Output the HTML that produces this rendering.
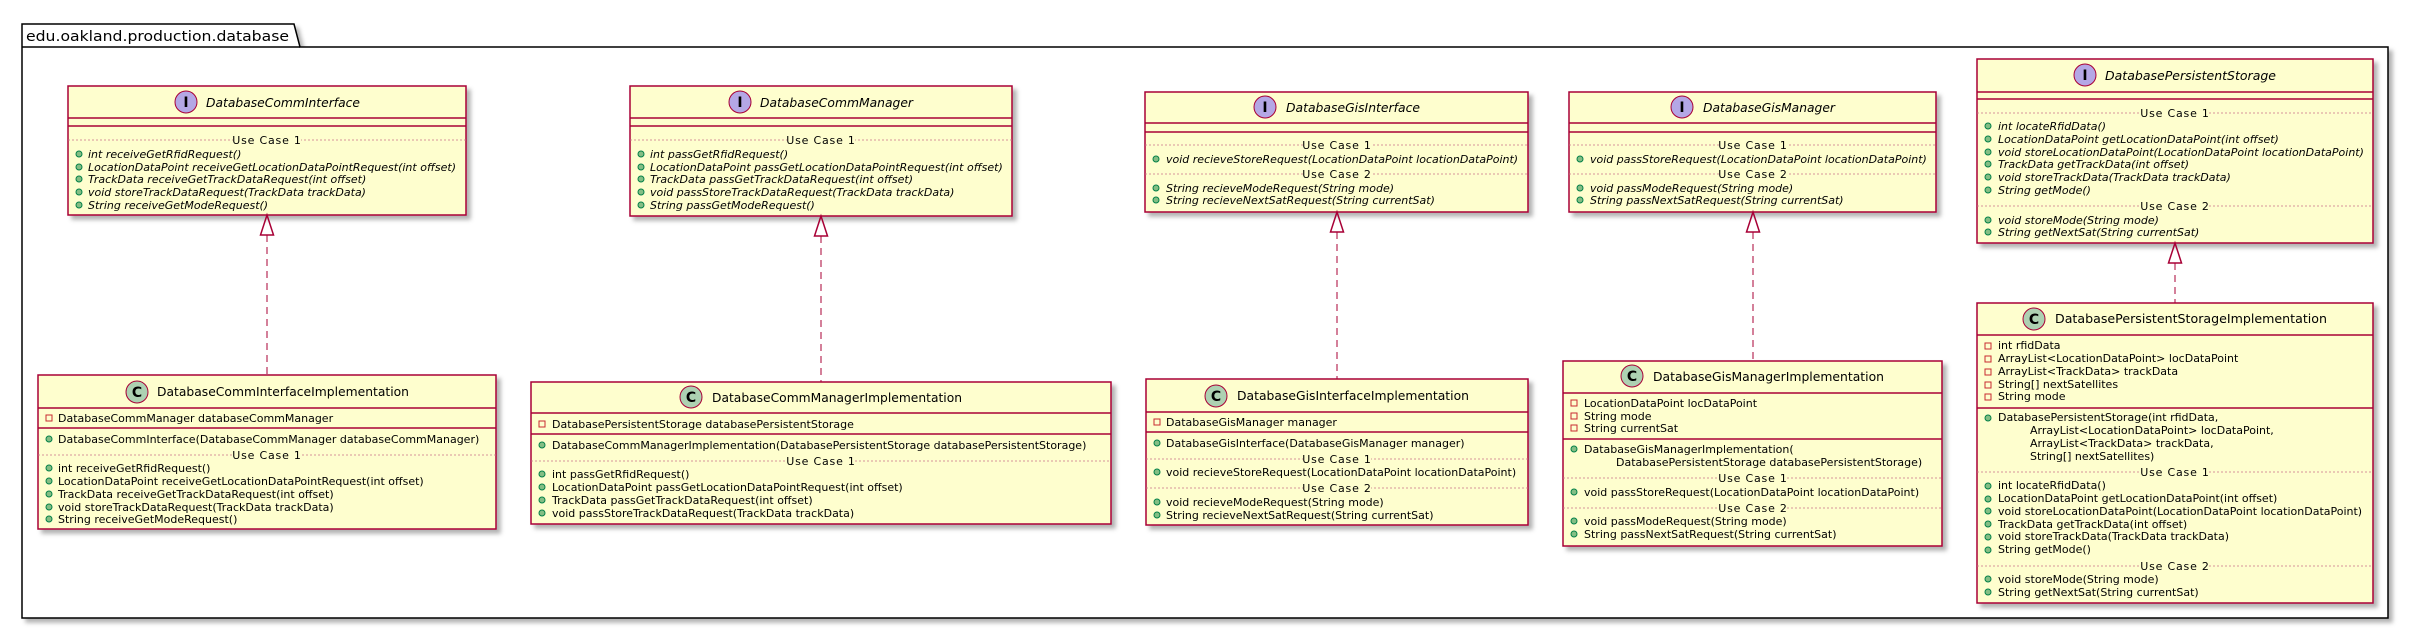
<!DOCTYPE html>
<html><head><meta charset="utf-8"><style>
html,body{margin:0;padding:0;background:#fff;}
svg{display:block;}
text{font-family:"DejaVu Sans","Liberation Sans",sans-serif;fill:#000;}
.t{font-size:12px;}
.ti{font-size:12px;font-style:italic;}
.m{font-size:11px;}
.mi{font-size:11px;font-style:italic;}
.uc{font-size:11px;letter-spacing:0.8px;}
.bx{fill:#FEFECE;stroke:#A80036;stroke-width:1.5;}
.ln{stroke:#A80036;stroke-width:1.5;}
.dl{stroke:#C9718A;stroke-width:0.8;stroke-dasharray:2,2;}
.pub{fill:#84BE84;stroke:#038048;stroke-width:1;}
.prv{fill:none;stroke:#C82930;stroke-width:1;}
.ic{stroke:#A80036;stroke-width:1;}
</style></head><body>
<svg width="2410" height="629" viewBox="0 0 2410 629" xmlns="http://www.w3.org/2000/svg">
<defs>
<filter id="sh" x="-5%" y="-5%" width="115%" height="120%"><feDropShadow dx="4" dy="4" stdDeviation="2" flood-color="#000" flood-opacity="0.3"/></filter>
</defs>

<!-- package -->
<path d="M22 24 L294 24 L300 47 L2388 47 L2388 618 L22 618 Z" fill="#fff" stroke="#000" stroke-width="1.5" filter="url(#sh)"/>
<line x1="22" y1="47" x2="300" y2="47" stroke="#000" stroke-width="1.5"/>
<text x="26" y="41" style="font-size:14px;" textLength="263" lengthAdjust="spacingAndGlyphs">edu.oakland.production.database</text>

<!-- ===== A interface ===== -->
<rect class="bx" x="68" y="86" width="398" height="129" filter="url(#sh)"/>
<circle cx="186" cy="102" r="11" fill="#B4A7E5" class="ic"/><text x="186" y="107" text-anchor="middle" style="font-size:14px;font-weight:bold;">I</text>
<text class="ti" x="206" y="107" textLength="154" lengthAdjust="spacingAndGlyphs">DatabaseCommInterface</text>
<line class="ln" x1="68" y1="118" x2="466" y2="118"/><line class="ln" x1="68" y1="126" x2="466" y2="126"/>
<line class="dl" x1="68" y1="140" x2="466" y2="140"/><rect x="233" y="133" width="68" height="14" fill="#FEFECE"/><text class="uc" x="267" y="144" text-anchor="middle">Use Case 1</text>
<circle class="pub" cx="79" cy="154" r="3"/><text class="mi" x="88" y="158">int receiveGetRfidRequest()</text>
<circle class="pub" cx="79" cy="167" r="3"/><text class="mi" x="88" y="171">LocationDataPoint receiveGetLocationDataPointRequest(int offset)</text>
<circle class="pub" cx="79" cy="179" r="3"/><text class="mi" x="88" y="183">TrackData receiveGetTrackDataRequest(int offset)</text>
<circle class="pub" cx="79" cy="192" r="3"/><text class="mi" x="88" y="196">void storeTrackDataRequest(TrackData trackData)</text>
<circle class="pub" cx="79" cy="205" r="3"/><text class="mi" x="88" y="209">String receiveGetModeRequest()</text>
<path d="M267 215 L260.5 235 L273.5 235 Z" fill="none" class="ln" stroke-width="1"/>
<line x1="267" y1="235" x2="267" y2="375" stroke="#A80036" stroke-width="1" stroke-dasharray="7,5"/>

<!-- A impl -->
<rect class="bx" x="38" y="375" width="458" height="154" filter="url(#sh)"/>
<circle cx="137" cy="392" r="11" fill="#ADD1B2" class="ic"/><text x="137" y="397" text-anchor="middle" style="font-size:14px;font-weight:bold;">C</text>
<text class="t" x="157" y="396" textLength="252" lengthAdjust="spacingAndGlyphs">DatabaseCommInterfaceImplementation</text>
<line class="ln" x1="38" y1="408" x2="496" y2="408"/>
<rect class="prv" x="46" y="415" width="6" height="6"/><text class="m" x="58" y="422">DatabaseCommManager databaseCommManager</text>
<line class="ln" x1="38" y1="428" x2="496" y2="428"/>
<circle class="pub" cx="49" cy="439" r="3"/><text class="m" x="58" y="443">DatabaseCommInterface(DatabaseCommManager databaseCommManager)</text>
<line class="dl" x1="38" y1="455" x2="496" y2="455"/><rect x="233" y="448" width="68" height="14" fill="#FEFECE"/><text class="uc" x="267" y="459" text-anchor="middle">Use Case 1</text>
<circle class="pub" cx="49" cy="468" r="3"/><text class="m" x="58" y="472">int receiveGetRfidRequest()</text>
<circle class="pub" cx="49" cy="481" r="3"/><text class="m" x="58" y="485">LocationDataPoint receiveGetLocationDataPointRequest(int offset)</text>
<circle class="pub" cx="49" cy="494" r="3"/><text class="m" x="58" y="498">TrackData receiveGetTrackDataRequest(int offset)</text>
<circle class="pub" cx="49" cy="507" r="3"/><text class="m" x="58" y="511">void storeTrackDataRequest(TrackData trackData)</text>
<circle class="pub" cx="49" cy="519" r="3"/><text class="m" x="58" y="523">String receiveGetModeRequest()</text>

<!-- ===== B interface ===== -->
<rect class="bx" x="630" y="86" width="382" height="130" filter="url(#sh)"/>
<circle cx="740" cy="102" r="11" fill="#B4A7E5" class="ic"/><text x="740" y="107" text-anchor="middle" style="font-size:14px;font-weight:bold;">I</text>
<text class="ti" x="760" y="107" textLength="153" lengthAdjust="spacingAndGlyphs">DatabaseCommManager</text>
<line class="ln" x1="630" y1="118" x2="1012" y2="118"/><line class="ln" x1="630" y1="126" x2="1012" y2="126"/>
<line class="dl" x1="630" y1="140" x2="1012" y2="140"/><rect x="787" y="133" width="68" height="14" fill="#FEFECE"/><text class="uc" x="821" y="144" text-anchor="middle">Use Case 1</text>
<circle class="pub" cx="641" cy="154" r="3"/><text class="mi" x="650" y="158">int passGetRfidRequest()</text>
<circle class="pub" cx="641" cy="167" r="3"/><text class="mi" x="650" y="171">LocationDataPoint passGetLocationDataPointRequest(int offset)</text>
<circle class="pub" cx="641" cy="179" r="3"/><text class="mi" x="650" y="183">TrackData passGetTrackDataRequest(int offset)</text>
<circle class="pub" cx="641" cy="192" r="3"/><text class="mi" x="650" y="196">void passStoreTrackDataRequest(TrackData trackData)</text>
<circle class="pub" cx="641" cy="205" r="3"/><text class="mi" x="650" y="209">String passGetModeRequest()</text>
<path d="M821 216 L814.5 236 L827.5 236 Z" fill="none" class="ln" stroke-width="1"/>
<line x1="821" y1="236" x2="821" y2="382" stroke="#A80036" stroke-width="1" stroke-dasharray="7,5"/>

<!-- B impl -->
<rect class="bx" x="531" y="382" width="580" height="142" filter="url(#sh)"/>
<circle cx="691" cy="397" r="11" fill="#ADD1B2" class="ic"/><text x="691" y="402" text-anchor="middle" style="font-size:14px;font-weight:bold;">C</text>
<text class="t" x="712" y="402" textLength="250" lengthAdjust="spacingAndGlyphs">DatabaseCommManagerImplementation</text>
<line class="ln" x1="531" y1="413" x2="1111" y2="413"/>
<rect class="prv" x="539" y="421" width="6" height="6"/><text class="m" x="552" y="428">DatabasePersistentStorage databasePersistentStorage</text>
<line class="ln" x1="531" y1="434" x2="1111" y2="434"/>
<circle class="pub" cx="542" cy="445" r="3"/><text class="m" x="552" y="449">DatabaseCommManagerImplementation(DatabasePersistentStorage databasePersistentStorage)</text>
<line class="dl" x1="531" y1="461" x2="1111" y2="461"/><rect x="787" y="454" width="68" height="14" fill="#FEFECE"/><text class="uc" x="821" y="465" text-anchor="middle">Use Case 1</text>
<circle class="pub" cx="542" cy="474" r="3"/><text class="m" x="552" y="478">int passGetRfidRequest()</text>
<circle class="pub" cx="542" cy="487" r="3"/><text class="m" x="552" y="491">LocationDataPoint passGetLocationDataPointRequest(int offset)</text>
<circle class="pub" cx="542" cy="500" r="3"/><text class="m" x="552" y="504">TrackData passGetTrackDataRequest(int offset)</text>
<circle class="pub" cx="542" cy="513" r="3"/><text class="m" x="552" y="517">void passStoreTrackDataRequest(TrackData trackData)</text>

<!-- ===== C interface ===== -->
<rect class="bx" x="1145" y="92" width="383" height="120" filter="url(#sh)"/>
<circle cx="1265" cy="107" r="11" fill="#B4A7E5" class="ic"/><text x="1265" y="112" text-anchor="middle" style="font-size:14px;font-weight:bold;">I</text>
<text class="ti" x="1286" y="112" textLength="134" lengthAdjust="spacingAndGlyphs">DatabaseGisInterface</text>
<line class="ln" x1="1145" y1="123" x2="1528" y2="123"/><line class="ln" x1="1145" y1="132" x2="1528" y2="132"/>
<line class="dl" x1="1145" y1="145" x2="1528" y2="145"/><rect x="1303" y="138" width="68" height="14" fill="#FEFECE"/><text class="uc" x="1337" y="149" text-anchor="middle">Use Case 1</text>
<circle class="pub" cx="1156" cy="159" r="3"/><text class="mi" x="1166" y="163">void recieveStoreRequest(LocationDataPoint locationDataPoint)</text>
<line class="dl" x1="1145" y1="174" x2="1528" y2="174"/><rect x="1303" y="167" width="68" height="14" fill="#FEFECE"/><text class="uc" x="1337" y="178" text-anchor="middle">Use Case 2</text>
<circle class="pub" cx="1156" cy="188" r="3"/><text class="mi" x="1166" y="192">String recieveModeRequest(String mode)</text>
<circle class="pub" cx="1156" cy="200" r="3"/><text class="mi" x="1166" y="204">String recieveNextSatRequest(String currentSat)</text>
<path d="M1337 212 L1330.5 232 L1343.5 232 Z" fill="none" class="ln" stroke-width="1"/>
<line x1="1337" y1="232" x2="1337" y2="379" stroke="#A80036" stroke-width="1" stroke-dasharray="7,5"/>

<!-- C impl -->
<rect class="bx" x="1146" y="379" width="382" height="146" filter="url(#sh)"/>
<circle cx="1216" cy="396" r="11" fill="#ADD1B2" class="ic"/><text x="1216" y="401" text-anchor="middle" style="font-size:14px;font-weight:bold;">C</text>
<text class="t" x="1237" y="400" textLength="232" lengthAdjust="spacingAndGlyphs">DatabaseGisInterfaceImplementation</text>
<line class="ln" x1="1146" y1="412" x2="1528" y2="412"/>
<rect class="prv" x="1154" y="419" width="6" height="6"/><text class="m" x="1166" y="426">DatabaseGisManager manager</text>
<line class="ln" x1="1146" y1="432" x2="1528" y2="432"/>
<circle class="pub" cx="1157" cy="443" r="3"/><text class="m" x="1166" y="447">DatabaseGisInterface(DatabaseGisManager manager)</text>
<line class="dl" x1="1146" y1="459" x2="1528" y2="459"/><rect x="1303" y="452" width="68" height="14" fill="#FEFECE"/><text class="uc" x="1337" y="463" text-anchor="middle">Use Case 1</text>
<circle class="pub" cx="1157" cy="472" r="3"/><text class="m" x="1166" y="476">void recieveStoreRequest(LocationDataPoint locationDataPoint)</text>
<line class="dl" x1="1146" y1="488" x2="1528" y2="488"/><rect x="1303" y="481" width="68" height="14" fill="#FEFECE"/><text class="uc" x="1337" y="492" text-anchor="middle">Use Case 2</text>
<circle class="pub" cx="1157" cy="502" r="3"/><text class="m" x="1166" y="506">void recieveModeRequest(String mode)</text>
<circle class="pub" cx="1157" cy="515" r="3"/><text class="m" x="1166" y="519">String recieveNextSatRequest(String currentSat)</text>

<!-- ===== D interface ===== -->
<rect class="bx" x="1569" y="92" width="367" height="120" filter="url(#sh)"/>
<circle cx="1682" cy="107" r="11" fill="#B4A7E5" class="ic"/><text x="1682" y="112" text-anchor="middle" style="font-size:14px;font-weight:bold;">I</text>
<text class="ti" x="1703" y="112" textLength="132" lengthAdjust="spacingAndGlyphs">DatabaseGisManager</text>
<line class="ln" x1="1569" y1="123" x2="1936" y2="123"/><line class="ln" x1="1569" y1="132" x2="1936" y2="132"/>
<line class="dl" x1="1569" y1="145" x2="1936" y2="145"/><rect x="1719" y="138" width="68" height="14" fill="#FEFECE"/><text class="uc" x="1753" y="149" text-anchor="middle">Use Case 1</text>
<circle class="pub" cx="1580" cy="159" r="3"/><text class="mi" x="1590" y="163">void passStoreRequest(LocationDataPoint locationDataPoint)</text>
<line class="dl" x1="1569" y1="174" x2="1936" y2="174"/><rect x="1719" y="167" width="68" height="14" fill="#FEFECE"/><text class="uc" x="1753" y="178" text-anchor="middle">Use Case 2</text>
<circle class="pub" cx="1580" cy="188" r="3"/><text class="mi" x="1590" y="192">void passModeRequest(String mode)</text>
<circle class="pub" cx="1580" cy="200" r="3"/><text class="mi" x="1590" y="204">String passNextSatRequest(String currentSat)</text>
<path d="M1753 212 L1746.5 232 L1759.5 232 Z" fill="none" class="ln" stroke-width="1"/>
<line x1="1753" y1="232" x2="1753" y2="361" stroke="#A80036" stroke-width="1" stroke-dasharray="7,5"/>

<!-- D impl -->
<rect class="bx" x="1563" y="361" width="379" height="185" filter="url(#sh)"/>
<circle cx="1632" cy="376" r="11" fill="#ADD1B2" class="ic"/><text x="1632" y="381" text-anchor="middle" style="font-size:14px;font-weight:bold;">C</text>
<text class="t" x="1653" y="381" textLength="231" lengthAdjust="spacingAndGlyphs">DatabaseGisManagerImplementation</text>
<line class="ln" x1="1563" y1="393" x2="1942" y2="393"/>
<rect class="prv" x="1571" y="400" width="6" height="6"/><text class="m" x="1584" y="407">LocationDataPoint locDataPoint</text>
<rect class="prv" x="1571" y="413" width="6" height="6"/><text class="m" x="1584" y="420">String mode</text>
<rect class="prv" x="1571" y="425" width="6" height="6"/><text class="m" x="1584" y="432">String currentSat</text>
<line class="ln" x1="1563" y1="439" x2="1942" y2="439"/>
<circle class="pub" cx="1574" cy="449" r="3"/><text class="m" x="1584" y="453">DatabaseGisManagerImplementation(</text>
<text class="m" x="1616" y="466">DatabasePersistentStorage databasePersistentStorage)</text>
<line class="dl" x1="1563" y1="478" x2="1942" y2="478"/><rect x="1719" y="471" width="68" height="14" fill="#FEFECE"/><text class="uc" x="1753" y="482" text-anchor="middle">Use Case 1</text>
<circle class="pub" cx="1574" cy="492" r="3"/><text class="m" x="1584" y="496">void passStoreRequest(LocationDataPoint locationDataPoint)</text>
<line class="dl" x1="1563" y1="508" x2="1942" y2="508"/><rect x="1719" y="501" width="68" height="14" fill="#FEFECE"/><text class="uc" x="1753" y="512" text-anchor="middle">Use Case 2</text>
<circle class="pub" cx="1574" cy="521" r="3"/><text class="m" x="1584" y="525">void passModeRequest(String mode)</text>
<circle class="pub" cx="1574" cy="534" r="3"/><text class="m" x="1584" y="538">String passNextSatRequest(String currentSat)</text>

<!-- ===== E interface ===== -->
<rect class="bx" x="1977" y="59" width="396" height="184" filter="url(#sh)"/>
<circle cx="2085" cy="75" r="11" fill="#B4A7E5" class="ic"/><text x="2085" y="80" text-anchor="middle" style="font-size:14px;font-weight:bold;">I</text>
<text class="ti" x="2105" y="80" textLength="171" lengthAdjust="spacingAndGlyphs">DatabasePersistentStorage</text>
<line class="ln" x1="1977" y1="92" x2="2373" y2="92"/><line class="ln" x1="1977" y1="99" x2="2373" y2="99"/>
<line class="dl" x1="1977" y1="113" x2="2373" y2="113"/><rect x="2141" y="106" width="68" height="14" fill="#FEFECE"/><text class="uc" x="2175" y="117" text-anchor="middle">Use Case 1</text>
<circle class="pub" cx="1988" cy="126" r="3"/><text class="mi" x="1998" y="130">int locateRfidData()</text>
<circle class="pub" cx="1988" cy="139" r="3"/><text class="mi" x="1998" y="143">LocationDataPoint getLocationDataPoint(int offset)</text>
<circle class="pub" cx="1988" cy="152" r="3"/><text class="mi" x="1998" y="156">void storeLocationDataPoint(LocationDataPoint locationDataPoint)</text>
<circle class="pub" cx="1988" cy="164" r="3"/><text class="mi" x="1998" y="168">TrackData getTrackData(int offset)</text>
<circle class="pub" cx="1988" cy="177" r="3"/><text class="mi" x="1998" y="181">void storeTrackData(TrackData trackData)</text>
<circle class="pub" cx="1988" cy="190" r="3"/><text class="mi" x="1998" y="194">String getMode()</text>
<line class="dl" x1="1977" y1="206" x2="2373" y2="206"/><rect x="2141" y="199" width="68" height="14" fill="#FEFECE"/><text class="uc" x="2175" y="210" text-anchor="middle">Use Case 2</text>
<circle class="pub" cx="1988" cy="220" r="3"/><text class="mi" x="1998" y="224">void storeMode(String mode)</text>
<circle class="pub" cx="1988" cy="232" r="3"/><text class="mi" x="1998" y="236">String getNextSat(String currentSat)</text>
<path d="M2175 243 L2168.5 263 L2181.5 263 Z" fill="none" class="ln" stroke-width="1"/>
<line x1="2175" y1="263" x2="2175" y2="303" stroke="#A80036" stroke-width="1" stroke-dasharray="7,5"/>

<!-- E impl -->
<rect class="bx" x="1977" y="303" width="396" height="300" filter="url(#sh)"/>
<circle cx="2034" cy="319" r="11" fill="#ADD1B2" class="ic"/><text x="2034" y="324" text-anchor="middle" style="font-size:14px;font-weight:bold;">C</text>
<text class="t" x="2055" y="323" textLength="272" lengthAdjust="spacingAndGlyphs">DatabasePersistentStorageImplementation</text>
<line class="ln" x1="1977" y1="335" x2="2373" y2="335"/>
<rect class="prv" x="1985" y="343" width="6" height="6"/><text class="m" x="1998" y="349">int rfidData</text>
<rect class="prv" x="1985" y="356" width="6" height="6"/><text class="m" x="1998" y="362">ArrayList&lt;LocationDataPoint&gt; locDataPoint</text>
<rect class="prv" x="1985" y="369" width="6" height="6"/><text class="m" x="1998" y="375">ArrayList&lt;TrackData&gt; trackData</text>
<rect class="prv" x="1985" y="382" width="6" height="6"/><text class="m" x="1998" y="388">String[] nextSatellites</text>
<rect class="prv" x="1985" y="394" width="6" height="6"/><text class="m" x="1998" y="400">String mode</text>
<line class="ln" x1="1977" y1="408" x2="2373" y2="408"/>
<circle class="pub" cx="1988" cy="418" r="3"/><text class="m" x="1998" y="421">DatabasePersistentStorage(int rfidData,</text>
<text class="m" x="2030" y="434">ArrayList&lt;LocationDataPoint&gt; locDataPoint,</text>
<text class="m" x="2030" y="447">ArrayList&lt;TrackData&gt; trackData,</text>
<text class="m" x="2030" y="460">String[] nextSatellites)</text>
<line class="dl" x1="1977" y1="472" x2="2373" y2="472"/><rect x="2141" y="465" width="68" height="14" fill="#FEFECE"/><text class="uc" x="2175" y="476" text-anchor="middle">Use Case 1</text>
<circle class="pub" cx="1988" cy="486" r="3"/><text class="m" x="1998" y="489">int locateRfidData()</text>
<circle class="pub" cx="1988" cy="499" r="3"/><text class="m" x="1998" y="502">LocationDataPoint getLocationDataPoint(int offset)</text>
<circle class="pub" cx="1988" cy="511" r="3"/><text class="m" x="1998" y="515">void storeLocationDataPoint(LocationDataPoint locationDataPoint)</text>
<circle class="pub" cx="1988" cy="524" r="3"/><text class="m" x="1998" y="528">TrackData getTrackData(int offset)</text>
<circle class="pub" cx="1988" cy="537" r="3"/><text class="m" x="1998" y="540">void storeTrackData(TrackData trackData)</text>
<circle class="pub" cx="1988" cy="550" r="3"/><text class="m" x="1998" y="553">String getMode()</text>
<line class="dl" x1="1977" y1="566" x2="2373" y2="566"/><rect x="2141" y="559" width="68" height="14" fill="#FEFECE"/><text class="uc" x="2175" y="570" text-anchor="middle">Use Case 2</text>
<circle class="pub" cx="1988" cy="579" r="3"/><text class="m" x="1998" y="583">void storeMode(String mode)</text>
<circle class="pub" cx="1988" cy="592" r="3"/><text class="m" x="1998" y="596">String getNextSat(String currentSat)</text>
</svg>
</body></html>
